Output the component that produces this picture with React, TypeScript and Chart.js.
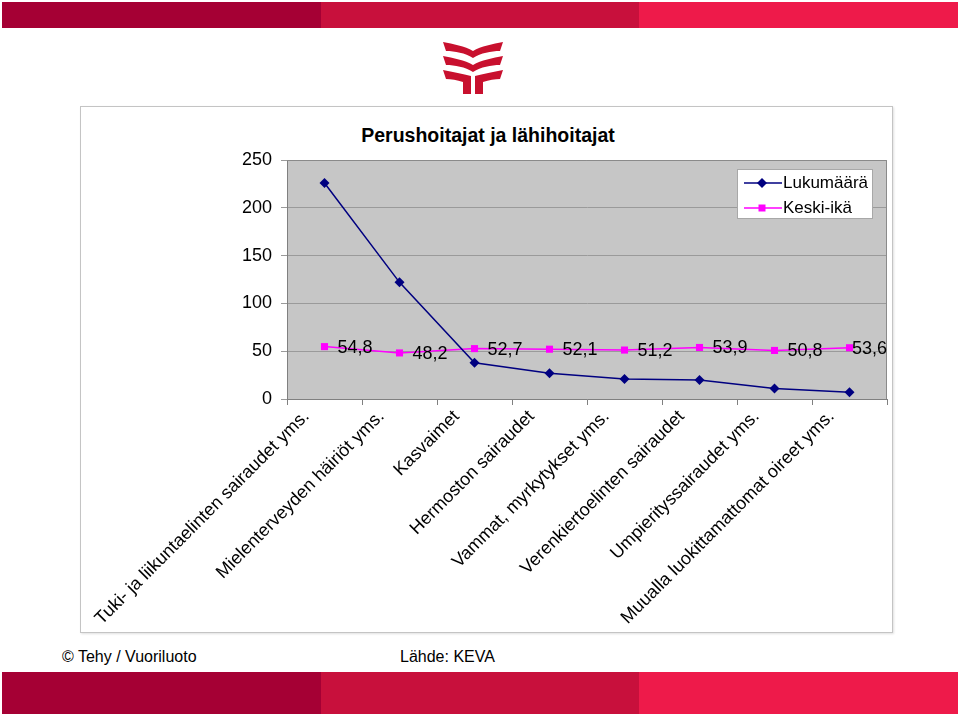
import React, { useEffect, useRef } from "react";
import { Chart, registerables } from "chart.js";

Chart.register(...registerables);

const categories = [
  "Tuki- ja liikuntaelinten sairaudet yms.",
  "Mielenterveyden häiriöt yms.",
  "Kasvaimet",
  "Hermoston sairaudet",
  "Vammat, myrkytykset yms.",
  "Verenkiertoelinten sairaudet",
  "Umpierityssairaudet yms.",
  "Muualla luokittamattomat oireet yms.",
];
const lukumaara = [226, 122, 38, 27, 21, 20, 11, 7];
const keskiIka = [54.8, 48.2, 52.7, 52.1, 51.2, 53.9, 50.8, 53.6];
const yTicks = [0, 50, 100, 150, 200, 250];
const seriesNames = ["Lukumäärä", "Keski-ikä"];
const chartTitle = "Perushoitajat ja lähihoitajat";

const FONT = "'Liberation Sans', Arial, sans-serif";
const NAVY = "#000080";
const PINK = "#FF00FF";

const fmt = (v: number) => v.toFixed(1).replace(".", ",");

const plotBg = {
  id: "plotBg",
  beforeDraw(chart: any) {
    const { ctx, chartArea: a } = chart;
    ctx.save();
    ctx.fillStyle = "#c6c6c6";
    ctx.fillRect(a.left, a.top, a.right - a.left, a.bottom - a.top);
    ctx.restore();
  },
  beforeDatasetsDraw(chart: any) {
    const { ctx, chartArea: a } = chart;
    ctx.save();
    ctx.strokeStyle = "#8a8a8a";
    ctx.lineWidth = 1;
    ctx.beginPath();
    ctx.moveTo(a.left, a.top + 0.5);
    ctx.lineTo(a.right - 0.5, a.top + 0.5);
    ctx.lineTo(a.right - 0.5, a.bottom);
    ctx.stroke();
    ctx.restore();
  },
};

const valueLabels = {
  id: "valueLabels",
  afterDatasetsDraw(chart: any) {
    const { ctx } = chart;
    const meta = chart.getDatasetMeta(1);
    ctx.save();
    ctx.font = `18px ${FONT}`;
    ctx.fillStyle = "#000";
    ctx.textAlign = "left";
    ctx.textBaseline = "middle";
    meta.data.forEach((pt: any, i: number) => {
      const txt = fmt(keskiIka[i]);
      const tw = ctx.measureText(txt).width;
      const x = Math.min(pt.x + 13, chart.width - 6 - tw);
      ctx.fillText(txt, x, pt.y + 1);
    });
    ctx.restore();
  },
};

function drawMarker(ctx: CanvasRenderingContext2D, style: string, x: number, y: number, color: string) {
  ctx.fillStyle = color;
  ctx.beginPath();
  if (style === "rectRot") {
    ctx.moveTo(x - 5, y);
    ctx.lineTo(x, y - 5);
    ctx.lineTo(x + 5, y);
    ctx.lineTo(x, y + 5);
    ctx.closePath();
  } else {
    ctx.rect(x - 3.5, y - 3.5, 7, 7);
  }
  ctx.fill();
}

const boxLegend = {
  id: "boxLegend",
  afterDraw(chart: any) {
    const { ctx, chartArea: a } = chart;
    const w = 136;
    const h = 50;
    const left = a.right - 14 - w;
    const top = a.top + 9;
    ctx.save();
    ctx.fillStyle = "#fff";
    ctx.fillRect(left, top, w, h);
    ctx.strokeStyle = "#a8a8a8";
    ctx.lineWidth = 1;
    ctx.strokeRect(left + 0.5, top + 0.5, w - 1, h - 1);
    ctx.font = `17px ${FONT}`;
    ctx.textBaseline = "middle";
    ctx.textAlign = "left";
    chart.data.datasets.forEach((ds: any, i: number) => {
      const y = top + 14 + i * 25;
      ctx.strokeStyle = ds.borderColor;
      ctx.lineWidth = 1.5;
      ctx.beginPath();
      ctx.moveTo(left + 7, y);
      ctx.lineTo(left + 45, y);
      ctx.stroke();
      drawMarker(ctx, ds.pointStyle, left + 25, y, ds.borderColor);
      ctx.fillStyle = "#000";
      ctx.fillText(ds.label, left + 46, y);
    });
    ctx.restore();
  },
};

function ChartBox() {
  const ref = useRef<HTMLCanvasElement>(null);
  useEffect(() => {
    if (!ref.current) return;
    const chart = new Chart(ref.current, {
      type: "line",
      data: {
        labels: categories,
        datasets: [
          {
            label: seriesNames[0],
            data: lukumaara,
            borderColor: NAVY,
            backgroundColor: NAVY,
            pointStyle: "rectRot",
            pointRadius: 5,
            pointBorderWidth: 0,
            borderWidth: 1.5,
            tension: 0,
          },
          {
            label: seriesNames[1],
            data: keskiIka,
            borderColor: PINK,
            backgroundColor: PINK,
            pointStyle: "rect",
            pointRadius: 5,
            pointBorderWidth: 0,
            borderWidth: 1.5,
            tension: 0,
          },
        ],
      },
      options: {
        animation: false,
        responsive: false,
        devicePixelRatio: 1,
        layout: { padding: { top: 54, right: 6, left: 0, bottom: 0 } },
        plugins: {
          legend: { display: false },
          tooltip: { enabled: false },
          title: { display: false },
        },
        scales: {
          x: {
            offset: true,
            grid: {
              offset: true,
              drawOnChartArea: false,
              drawTicks: true,
              tickLength: 6,
              color: "#808080",
            },
            border: { color: "#808080", width: 1 },
            ticks: {
              autoSkip: false,
              minRotation: 45,
              maxRotation: 45,
              padding: 1,
              labelOffset: -18,
              color: "#000",
              font: { family: FONT, size: 18 },
            },
            afterFit(scale: any) {
              scale.height = 234;
            },
          },
          y: {
            min: 0,
            max: 250,
            afterBuildTicks(scale: any) {
              scale.ticks = yTicks.map((v) => ({ value: v }));
            },
            grid: {
              color: "#9a9a9a",
              tickLength: 6,
              drawTicks: true,
            },
            border: { color: "#808080", width: 1 },
            ticks: {
              padding: 9,
              color: "#000",
              font: { family: FONT, size: 18 },
            },
            afterFit(scale: any) {
              scale.width = 207;
            },
          },
        },
      },
      plugins: [plotBg, valueLabels, boxLegend],
    });
    return () => chart.destroy();
  }, []);
  return (
    <canvas
      ref={ref}
      width={813}
      height={527}
      style={{ position: "absolute", left: 80, top: 106, width: 813, height: 527 }}
    />
  );
}

function Logo() {
  const c = "#C8102E";
  const wing = (y0: number) => (
    <g key={y0}>
      <path
        d={`M0,${y0} C10,${y0 + 2} 22,${y0 + 4} 30,${y0 + 9} L30,${y0 + 16} C22,${y0 + 11} 12,${y0 + 9} 3,${y0 + 9} Z`}
        fill={c}
      />
      <path
        d={`M60,${y0} C50,${y0 + 2} 38,${y0 + 4} 30,${y0 + 9} L30,${y0 + 16} C38,${y0 + 11} 48,${y0 + 9} 57,${y0 + 9} Z`}
        fill={c}
      />
    </g>
  );
  return (
    <svg
      width={60}
      height={52}
      viewBox="0 0 60 52"
      style={{ position: "absolute", left: 443, top: 42 }}
    >
      {wing(0)}
      {wing(14)}
      <path d="M0,28 C10,30 20,32 28,34 L28,52 L20,52 L20,40 C14,38 8,37 3,37 Z" fill={c} />
      <path d="M60,28 C50,30 40,32 32,34 L32,52 L40,52 L40,40 C46,38 52,37 57,37 Z" fill={c} />
    </svg>
  );
}

function Banner({ top, height }: { top: number; height: number }) {
  const cols = ["#A50034", "#C8103C", "#EE1A4A"];
  return (
    <div style={{ position: "absolute", left: 2, top, width: 956, height, display: "flex" }}>
      {cols.map((col, i) => (
        <div key={i} style={{ flex: 1, background: col }} />
      ))}
    </div>
  );
}

export default function App() {
  return (
    <div
      style={{
        position: "absolute",
        left: 0,
        top: 0,
        width: 960,
        height: 716,
        background: "#fff",
        overflow: "hidden",
        fontFamily: FONT,
      }}
    >
      <Banner top={2} height={26} />
      <Logo />
      <div
        style={{
          position: "absolute",
          left: 80,
          top: 106,
          width: 813,
          height: 527,
          border: "1px solid #c4c4c4",
          boxSizing: "border-box",
          boxShadow: "1px 1px 2px rgba(0,0,0,0.12)",
        }}
      />
      <div
        style={{
          position: "absolute",
          left: 488,
          top: 124,
          transform: "translateX(-50%)",
          whiteSpace: "nowrap",
          fontWeight: "bold",
          fontSize: 19.5,
          lineHeight: "22px",
          color: "#000",
        }}
      >
        {chartTitle}
      </div>
      <ChartBox />
      <div style={{ position: "absolute", left: 62, top: 647, fontSize: 16, lineHeight: "20px", color: "#000" }}>
        © Tehy / Vuoriluoto
      </div>
      <div style={{ position: "absolute", left: 400, top: 647, fontSize: 16, lineHeight: "20px", color: "#000" }}>
        Lähde: KEVA
      </div>
      <Banner top={672} height={42} />
    </div>
  );
}
